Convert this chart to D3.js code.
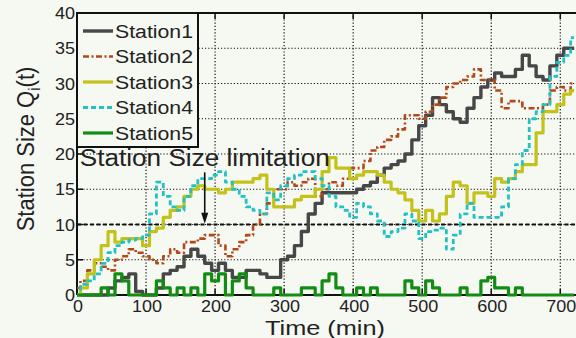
<!DOCTYPE html>
<html>
<head>
<meta charset="utf-8">
<script src="https://cdn.jsdelivr.net/npm/d3@7"></script>
<style>
  body { margin: 0; background: #f6f8f2; }
  svg { display: block; }
  text { font-family: "Liberation Sans", Arial, Helvetica, sans-serif; fill: #222; }
</style>
</head>
<body>
<div id="chart"></div>
<script>
// sample times (min)
const times = [0,10,20,30,40,50,60,70,80,90,
  100,110,120,130,140,150,160,170,180,190,
  200,210,220,230,240,250,260,270,280,290,
  300,310,320,330,340,350,360,370,380,390,
  400,410,420,430,440,450,460,470,480,490,
  500,510,520,530,540,550,560,570,580,590,
  600,610,620,630,640,650,660,670,680,690,
  700,710,720]

const station1 = [0,0,0,0,0,1,2,2.5,3,0.5,
  0,0,1,3,3.5,4,5.5,6.5,5.5,4.5,
  3.5,4.5,3.5,2.5,2.5,3.5,3.5,3,2.5,2.5,
  5,5.5,7,9,11.5,13,14.5,14.5,14.5,14.5,
  14.5,15,15.5,16,17,18,18.5,19,20,22,
  24,25.5,28,27,26,25,24.5,26.5,28,29.5,
  30.5,31.5,31,31,32,34,32.5,31,30.5,32.5,
  34,35,35]

const station2 = [1,2,3.5,4.5,4,3.5,5,5.5,6.5,6,
  5.5,5,4.5,5.5,6.5,6,7.5,7.5,8,8.5,
  8.5,7,5.5,6.5,7.5,8.5,10,11.5,13,15,
  15,16,15.5,16,16.5,14,15,16,15.5,16.5,
  18,18,19,20.5,21,22,22.5,23.5,25.5,25.5,
  25,26,27,28,29.5,30,30.5,31,32,30.5,
  30.5,29,26.5,27.5,27.5,26.5,26.5,26.5,27,29,
  29.5,29,30]

const station3 = [0,1,3,5,7,9,7.5,8,8,8,
  7,9,9.5,11,12,12.5,14,15,15.5,15,
  15,14.5,15,16,16,16,16.5,17,15,12.5,
  12.5,12.5,13.5,14,14,15,17.5,19.5,18,18,
  16.5,17,17.5,17.5,17,16,15,14.5,13.5,12,
  10.5,12,10.5,11.5,14,16,15.5,13,14.5,14.5,
  14,16.5,16,16.5,17.5,18.5,18.5,23,26,26,
  27,28.5,29]

const station4 = [0,1.5,2,3,4.5,6,7,7.5,7.8,8,
  8.5,11.5,16,14,12.5,12,14,15.5,16.5,16.5,
  17,17.5,16,15,14,12.5,12,11.5,14.5,13.5,
  15.5,16.5,17,17.5,17.5,16.5,15.5,14,12.5,12,
  11,13,12.5,11.5,10.5,8.3,9,9.5,11.5,10.5,
  8,9,9.2,9.5,6.5,8.5,11.5,13,11,11,
  11,11,12.5,16.5,18.5,20.5,25,26,27,31,
  33,34,36.5]

const station5 = [0,0,0,0,1,0,3,2,0,0,
  0,0,2,1,0,1,0,1,0,3,
  2,3,0,2,3,1,0,0,0,1,
  0,0,0,1,1,0,2,3,1,0,
  0,1,0,1,0,0,0,0,2,1,
  0,2,1,0,0,0,1,0,0,2,
  2.5,1,1,0,1,0,0,0,0,0,
  0,0,0]

const seriesNames = ['Station1','Station2','Station3','Station4','Station5']
const xTicks = [0,100,200,300,400,500,600,700]
const yTicks = [0,5,10,15,20,25,30,35,40]
const limitValue = 10
const limitLabel = 'Station Size limitation'

const W = 576, H = 338
const x = d3.scaleLinear().domain([0,730]).range([77,581])
const y = d3.scaleLinear().domain([0,40]).range([295,13])

const styles = [
  {color:'#474747', width:3.4, dash:null},
  {color:'#b04a1c', width:2.6, dash:'6,2.5,2,2.5'},
  {color:'#c2c21a', width:3.2, dash:null},
  {color:'#22c2c4', width:2.8, dash:'5,3'},
  {color:'#138c13', width:3.2, dash:null}
]
const allSeries = [station1,station2,station3,station4,station5]

const svg = d3.select('#chart').append('svg').attr('width',W).attr('height',H)
svg.append('rect').attr('width',W).attr('height',H).attr('fill','#f6f8f2')

// grid
const grid = svg.append('g')
grid.selectAll('line.gx').data(xTicks.slice(1)).enter().append('line')
  .attr('x1',d => x(d)).attr('x2',d => x(d)).attr('y1',y(40)).attr('y2',y(0))
  .attr('stroke','#111').attr('stroke-width',1.2).attr('stroke-dasharray','1.2,2')
grid.selectAll('line.gy').data(yTicks.slice(1,-1)).enter().append('line')
  .attr('x1',x(0)).attr('x2',W).attr('y1',d => y(d)).attr('y2',d => y(d))
  .attr('stroke','#111').attr('stroke-width',1.2).attr('stroke-dasharray','1.2,2')

// limitation line
svg.append('line')
  .attr('x1',x(0)).attr('x2',W).attr('y1',y(limitValue)).attr('y2',y(limitValue))
  .attr('stroke','#111').attr('stroke-width',2.2).attr('stroke-dasharray','4,2.5')

// axes box + inward ticks
const ax = svg.append('g').attr('stroke','#111')
ax.append('line').attr('x1',x(0)).attr('x2',W).attr('y1',y(0)).attr('y2',y(0)).attr('stroke-width',2)
ax.append('line').attr('x1',x(0)).attr('x2',W).attr('y1',y(40)).attr('y2',y(40)).attr('stroke-width',2)
ax.append('line').attr('x1',x(0)).attr('x2',x(0)).attr('y1',y(0)).attr('y2',y(40)).attr('stroke-width',2)
ax.selectAll('line.ty').data(yTicks).enter().append('line')
  .attr('x1',x(0)).attr('x2',x(0)+6).attr('y1',d => y(d)).attr('y2',d => y(d)).attr('stroke-width',1.5)
ax.selectAll('line.tx').data(xTicks).enter().append('line')
  .attr('x1',d => x(d)).attr('x2',d => x(d)).attr('y1',y(0)).attr('y2',y(0)-6).attr('stroke-width',1.5)
ax.selectAll('line.tt').data(xTicks).enter().append('line')
  .attr('x1',d => x(d)).attr('x2',d => x(d)).attr('y1',y(40)).attr('y2',y(40)+6).attr('stroke-width',1.5)

// tick labels
svg.selectAll('text.yl').data(yTicks).enter().append('text')
  .attr('x',x(0)-2).attr('y',d => y(d)+6).attr('text-anchor','end')
  .attr('font-size',16).attr('textLength',d => String(d).length*10).attr('lengthAdjust','spacingAndGlyphs')
  .text(d => d)
svg.selectAll('text.xl').data(xTicks).enter().append('text')
  .attr('x',d => x(d)+1).attr('y',312).attr('text-anchor','middle')
  .attr('font-size',16).attr('textLength',d => String(d).length*10).attr('lengthAdjust','spacingAndGlyphs')
  .text(d => d)

// axis titles
svg.append('text').attr('x',325).attr('y',335).attr('text-anchor','middle')
  .attr('font-size',21).attr('textLength',120).attr('lengthAdjust','spacingAndGlyphs')
  .text('Time (min)')
const yt = svg.append('text').attr('text-anchor','middle').attr('font-size',22)
  .attr('transform','translate(34,149) scale(1.12,1) rotate(-90)')
yt.append('tspan').text('Station Size Q')
yt.append('tspan').attr('font-size',15).attr('dy',5).text('i')
yt.append('tspan').attr('dy',-5).text('(t)')

// series
svg.append('clipPath').attr('id','plotclip').append('rect')
  .attr('x',x(0)).attr('y',y(40)).attr('width',W - x(0)).attr('height',y(0) - y(40) + 3)
const line = d3.line().x(d => x(d[0])).y(d => y(d[1])).curve(d3.curveStep)
const plot = svg.append('g').attr('clip-path','url(#plotclip)')
allSeries.forEach((vals,i) => {
  const pts = times.map((t,j) => [t, vals[j]])
  plot.append('path').datum(pts)
    .attr('d',line).attr('fill','none')
    .attr('stroke',styles[i].color).attr('stroke-width',styles[i].width)
    .attr('stroke-linejoin','round')
    .attr('stroke-dasharray',styles[i].dash)
})

// annotation
const arrowX = 185, arrowFrom = 17.4, arrowTo = 10.1
svg.append('line').attr('x1',x(arrowX)).attr('x2',x(arrowX)).attr('y1',y(arrowFrom)).attr('y2',y(arrowTo)-9)
  .attr('stroke','#111').attr('stroke-width',1.6)
svg.append('path')
  .attr('d',`M${x(arrowX)},${y(arrowTo)} L${x(arrowX)-3.5},${y(arrowTo)-11} L${x(arrowX)+3.5},${y(arrowTo)-11} Z`)
  .attr('fill','#111')
svg.append('text').attr('x',x(4)).attr('y',y(18.3)).attr('font-size',23)
  .attr('textLength',250).attr('lengthAdjust','spacingAndGlyphs')
  .text(limitLabel)

// legend
const lg = svg.append('g')
lg.append('rect').attr('x',x(0)).attr('y',y(40)).attr('width',121).attr('height',134)
  .attr('fill','#f6f8f2').attr('stroke','#111').attr('stroke-width',2)
const rowY = d3.scalePoint().domain(seriesNames).range([31,133])
seriesNames.forEach((name,i) => {
  lg.append('line').attr('x1',83).attr('x2',113).attr('y1',rowY(name)).attr('y2',rowY(name))
    .attr('stroke',styles[i].color).attr('stroke-width',styles[i].width)
    .attr('stroke-dasharray',styles[i].dash)
  lg.append('text').attr('x',115).attr('y',rowY(name)+6.5).attr('font-size',18)
    .attr('textLength',78).attr('lengthAdjust','spacingAndGlyphs').text(name)
})
</script>
</body>
</html>
